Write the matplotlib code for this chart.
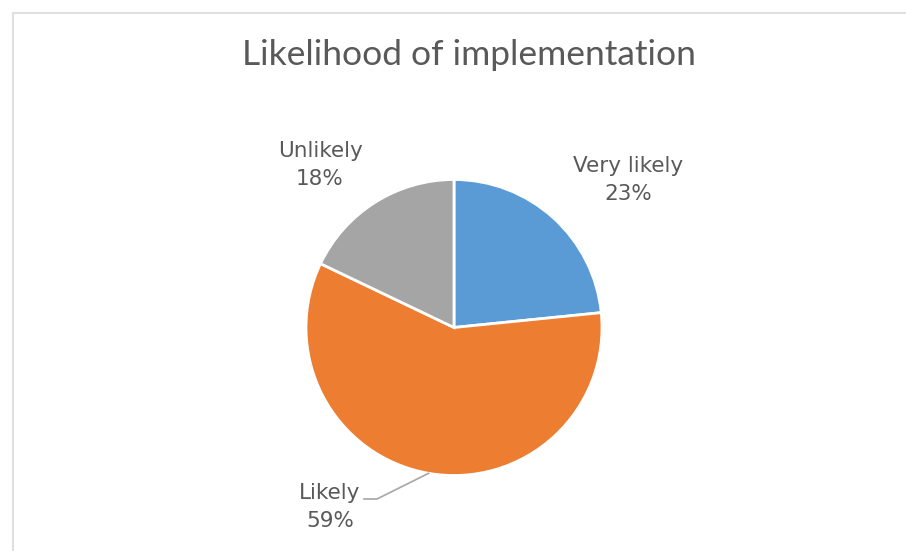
import numpy as np
import matplotlib.pyplot as plt
from matplotlib.patches import Rectangle

categories = ["Very likely", "Likely", "Unlikely"]
shares = [23.4, 58.7, 17.9]
colors = ["#5B9BD5", "#ED7D31", "#A5A5A5"]
title = "Likelihood of implementation"

W, H = 906, 551
CENTER = (454, H - 327.5)
RADIUS = 148
# label centres in pixels (from top-left), Excel's placement
LABEL_POS = {"Very likely": (628, 180), "Unlikely": (320, 165), "Likely": (330, 507)}
TEXT_COLOR = "#595959"

fig = plt.figure(figsize=(W / 100, H / 100), dpi=100)
ax = fig.add_axes([0, 0, 1, 1])

wedges, _ = ax.pie(
    shares,
    colors=colors,
    startangle=90,
    counterclock=False,
    center=CENTER,
    radius=RADIUS,
    wedgeprops={"edgecolor": "white", "linewidth": 2},
)
ax.set_xlim(0, W)
ax.set_ylim(0, H)
ax.set_aspect("equal")
ax.axis("off")

# chart area border
ax.add_patch(Rectangle((12.5, -20), W + 50, H - 12.5 + 20, fill=False,
                       edgecolor="#D9D9D9", linewidth=1.2, clip_on=False))

ax.text(469, H - 55, title, ha="center", va="center", fontsize=25.5,
        color=TEXT_COLOR, family="Lato")

for wedge, cat, share in zip(wedges, categories, shares):
    x, y = LABEL_POS[cat]
    ax.text(x, H - y, f"{cat}\n{share:.0f}%", ha="center", va="center",
            fontsize=15.5, color=TEXT_COLOR, family="DejaVu Sans", linespacing=1.45)
    if cat == "Likely":
        mid = np.deg2rad((wedge.theta1 + wedge.theta2) / 2)
        sx = CENTER[0] + RADIUS * np.cos(mid)
        sy = CENTER[1] + RADIUS * np.sin(mid)
        ax.plot([sx, 377, 364], [sy, H - 499, H - 499], color="#A6A6A6", linewidth=1.2)

fig.savefig("out.png", dpi=100)
